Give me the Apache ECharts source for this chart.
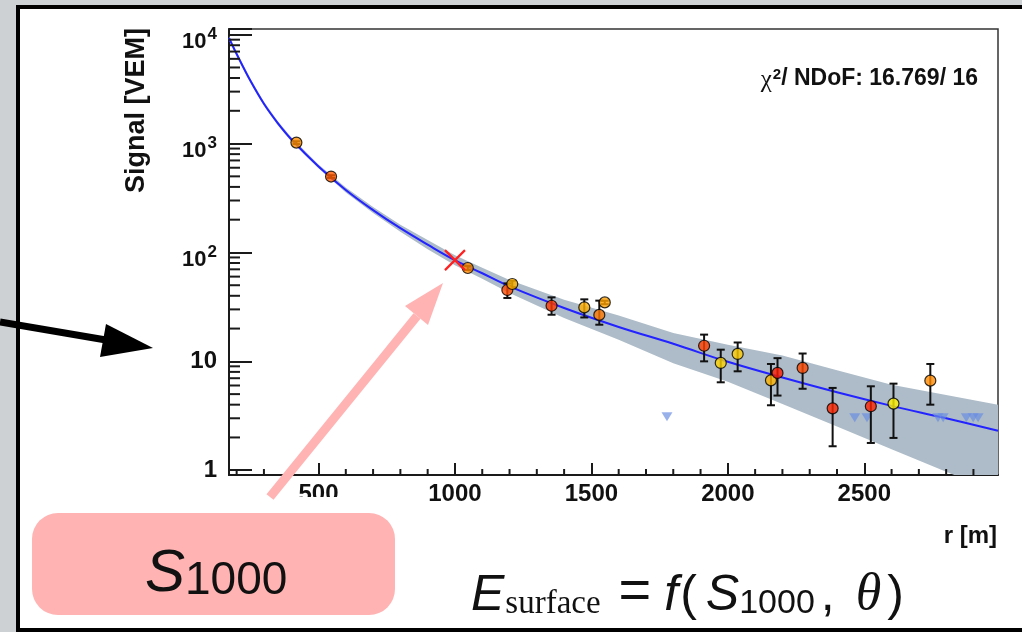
<!DOCTYPE html>
<html>
<head>
<meta charset="utf-8">
<script src="https://cdn.jsdelivr.net/npm/echarts@6/dist/echarts.min.js"></script>
<style>
  html, body { margin: 0; padding: 0; width: 1022px; height: 632px; overflow: hidden; background: #ced1d4; }
  #panel { position: absolute; left: 16px; top: 5px; width: 1030px; height: 619px; border: 4px solid #000; background: #fff; }
  #chart { position: absolute; left: 0; top: 0; width: 1022px; height: 632px; }
</style>
</head>
<body>
<div id="panel"></div>
<div id="chart"></div>
<script>
// ---- axis ranges ----
const rMin = 172, rMax = 2990;        // core distance r [m]
const sMin = 0.904, sMax = 11280;     // signal [VEM], log scale

// ---- tick values ----
const xMajor = [500, 1000, 1500, 2000, 2500];
const xMinor = [200, 300, 400, 600, 700, 800, 900, 1100, 1200, 1300, 1400, 1600, 1700, 1800, 1900,
                2100, 2200, 2300, 2400, 2600, 2700, 2800, 2900];
const yMinor = [2, 3, 4, 5, 6, 7, 8, 9, 20, 30, 40, 50, 60, 70, 80, 90,
                200, 300, 400, 500, 600, 700, 800, 900, 2000, 3000, 4000, 5000, 6000, 7000, 8000, 9000];

// ---- triggered stations ----
const stationR    = [419, 546, 1047, 1192, 1210, 1354, 1474, 1529, 1549, 1913, 1974, 2036, 2158, 2182, 2274, 2384, 2524, 2607, 2742];
const stationS    = [1021, 498, 72, 45.2, 51.3, 32.4, 31.3, 26.7, 34.8, 13.9, 9.67, 11.7, 6.69, 7.83, 8.7, 3.7, 3.87, 4.09, 6.65];
const stationLow  = [990, 484, 69, 38.2, 48, 26.8, 25.3, 21.7, 33.5, 10.0, 6.42, 8.1, 3.95, 4.85, 5.6, 1.66, 1.78, 1.98, 4.0];
const stationHigh = [1050, 512, 75, 52, 55, 38.7, 37.1, 36.1, 36, 17.6, 12.8, 14.9, 9.46, 10.7, 11.8, 5.7, 5.9, 6.24, 9.46];
const stationColor = ['#ff8c00', '#ff5a00', '#ff8800', '#ff4a00', '#ffb000', '#ff3800', '#ffae00', '#ff7800', '#ffa200',
                      '#ff4000', '#ffd400', '#ffcc00', '#ffb400', '#ff1a00', '#ff4800', '#ff2400', '#ff2000', '#fff000', '#ff8a00'];

// ---- silent stations (upper limits) ----
const silentR = [1777, 2465, 2510, 2770, 2789, 2874, 2899, 2917];
const silentS = [3.1, 3.03, 3.03, 3.03, 3.03, 3.03, 3.03, 3.03];

// ---- fitted lateral distribution function and its uncertainty band ----
const ldfR      = [172, 200, 250, 300, 350, 400, 500, 600, 700, 800, 900, 1000, 1100, 1200, 1400, 1600, 1800, 2000, 2200, 2400, 2600, 2800, 2990];
const ldfS      = [9330, 6650, 3790, 2320, 1550, 1097, 617, 375, 245, 167, 118, 85, 64.4, 48.8, 30.9, 20.7, 14.5, 9.9, 7.1, 5.2, 3.9, 3.0, 2.3];
const bandUpper = [9730, 6940, 3950, 2420, 1615, 1145, 643, 395, 261, 180, 130, 94.4, 72.3, 56, 36.8, 26.3, 18.2, 14.2, 11.3, 8.3, 6.1, 4.9, 4.0];
const bandLower = [8945, 6375, 3635, 2225, 1485, 1052, 592, 356, 230, 155, 107, 76.5, 57.3, 42.4, 25, 15.8, 9.6, 6.5, 4.06, 2.52, 1.56, 0.97, 0.62];

// ---- reference point ----
const refR = 1000, s1000 = 85;

const FONT = '"Liberation Sans", Arial, Helvetica, sans-serif';
const SERIF = '"Liberation Serif", "Times New Roman", serif';
const INK = '#1a1a1a';

const chart = echarts.init(document.getElementById('chart'), null, { renderer: 'canvas' });

function fmtY(v) {
  const e = Math.round(Math.log10(v));
  if (Math.abs(v / Math.pow(10, e) - 1) > 1e-6) return '';
  if (e === 0) return '{n|1}';
  if (e === 1) return '{n|10}';
  return '{b|10}{p|' + e + '}';
}

const option = {
  backgroundColor: 'transparent',
  animation: false,
  grid: { left: 229, right: 24, top: 29, bottom: 157, show: true, borderColor: '#333', borderWidth: 1.5, backgroundColor: 'transparent' },
  xAxis: {
    type: 'value', min: rMin, max: rMax,
    axisLine: { onZero: false, lineStyle: { color: INK, width: 2 } },
    axisTick: { inside: true, length: 12, customValues: xMajor, lineStyle: { color: INK, width: 2 } },
    axisLabel: { customValues: xMajor, margin: 7, fontSize: 24, fontWeight: 'bold', color: '#111', fontFamily: FONT,
                 formatter: v => String(v) },
    splitLine: { show: false }
  },
  yAxis: {
    type: 'log', logBase: 10, min: sMin, max: sMax,
    axisLine: { show: true, lineStyle: { color: INK, width: 2 } },
    axisTick: { show: true, inside: true, length: 23, lineStyle: { color: INK, width: 2 } },
    splitLine: { show: false },
    axisLabel: {
      margin: 12, formatter: fmtY, color: '#111',
      rich: {
        n: { fontSize: 24, fontWeight: 'bold', fontFamily: FONT, color: '#111', lineHeight: 24 },
        b: { fontSize: 22, fontWeight: 'bold', fontFamily: FONT, color: '#111', lineHeight: 22, padding: [14, 0, 0, 0] },
        p: { fontSize: 17, fontWeight: 'bold', fontFamily: FONT, color: '#111', lineHeight: 17, padding: [0, 0, 1, 1] }
      }
    }
  },
  series: [
    // uncertainty band of the fit
    {
      type: 'custom', z: 1, clip: true, silent: true,
      data: [[ldfR[0], bandUpper[0]]],
      renderItem: function (params, api) {
        const pts = [];
        for (let i = 0; i < ldfR.length; i++) pts.push(api.coord([ldfR[i], bandUpper[i]]));
        for (let i = ldfR.length - 1; i >= 0; i--) pts.push(api.coord([ldfR[i], bandLower[i]]));
        return { type: 'polygon', shape: { points: pts }, style: { fill: '#adbcc8' } };
      }
    },
    // fitted LDF
    {
      type: 'line', z: 2, data: ldfR.map((r, i) => [r, ldfS[i]]),
      smooth: 0.4, showSymbol: false, symbol: 'none',
      lineStyle: { color: '#2323ff', width: 2 }, silent: true
    },
    // minor ticks on the y axis
    {
      type: 'custom', z: 3, silent: true,
      data: yMinor.map(v => [rMin, v]),
      renderItem: function (params, api) {
        const p = api.coord([api.value(0), api.value(1)]);
        return { type: 'line', shape: { x1: p[0], y1: p[1], x2: p[0] + 11, y2: p[1] }, style: { stroke: INK, lineWidth: 2 } };
      }
    },
    // minor ticks on the x axis
    {
      type: 'custom', z: 3, silent: true,
      data: xMinor.map(v => [v, sMin]),
      renderItem: function (params, api) {
        const p = api.coord([api.value(0), api.value(1)]);
        return { type: 'line', shape: { x1: p[0], y1: p[1], x2: p[0], y2: p[1] - 6 }, style: { stroke: INK, lineWidth: 2 } };
      }
    },
    // silent stations
    {
      type: 'scatter', z: 4, data: silentR.map((r, i) => [r, silentS[i]]),
      symbol: 'triangle', symbolRotate: 180, symbolSize: [11, 9],
      itemStyle: { color: 'rgba(105,140,225,0.85)' }, silent: true
    },
    // error bars
    {
      type: 'custom', z: 5, silent: true,
      data: stationR.map((r, i) => [r, stationLow[i], stationHigh[i]]),
      renderItem: function (params, api) {
        const lo = api.coord([api.value(0), api.value(1)]);
        const hi = api.coord([api.value(0), api.value(2)]);
        const st = { stroke: '#111', lineWidth: 2 };
        return {
          type: 'group', children: [
            { type: 'line', shape: { x1: lo[0], y1: lo[1], x2: hi[0], y2: hi[1] }, style: st },
            { type: 'line', shape: { x1: hi[0] - 4, y1: hi[1], x2: hi[0] + 4, y2: hi[1] }, style: st },
            { type: 'line', shape: { x1: lo[0] - 4, y1: lo[1], x2: lo[0] + 4, y2: lo[1] }, style: st }
          ]
        };
      }
    },
    // triggered stations
    {
      type: 'scatter', z: 6, symbol: 'circle', symbolSize: 11,
      data: stationR.map((r, i) => ({ value: [r, stationS[i]], itemStyle: { color: stationColor[i] } })),
      itemStyle: { borderColor: '#000', borderWidth: 1.2 }, silent: true
    },
    // S1000 marker
    {
      type: 'custom', z: 7, silent: true,
      data: [[refR, s1000]],
      renderItem: function (params, api) {
        const p = api.coord([api.value(0), api.value(1)]);
        const st = { stroke: '#ff2020', lineWidth: 2.2 };
        return {
          type: 'group', children: [
            { type: 'line', shape: { x1: p[0] - 10, y1: p[1] - 10, x2: p[0] + 10, y2: p[1] + 10 }, style: st },
            { type: 'line', shape: { x1: p[0] - 10, y1: p[1] + 10, x2: p[0] + 10, y2: p[1] - 10 }, style: st }
          ]
        };
      }
    }
  ],
  graphic: [
    // axis titles
    { type: 'text', x: 137, y: 28, rotation: Math.PI / 2, z: 50,
      style: { text: 'Signal [VEM]', align: 'right', verticalAlign: 'middle', font: 'bold 27px ' + FONT, fill: '#111' } },
    { type: 'text', x: 997, y: 536, z: 50,
      style: { text: 'r [m]', align: 'right', verticalAlign: 'middle', font: 'bold 24px ' + FONT, fill: '#111' } },
    // fit quality
    { type: 'text', x: 978, y: 79, z: 50,
      style: {
        text: '{c|χ}{s|2}{t|/ NDoF: 16.769/ 16}', align: 'right', verticalAlign: 'middle',
        rich: {
          c: { fontSize: 25, fontFamily: SERIF, fill: '#111', lineHeight: 24, padding: [3, 0, 0, 0] },
          s: { fontSize: 15, fontWeight: 'bold', fontFamily: FONT, fill: '#111', lineHeight: 15, padding: [0, 0, 9, 1] },
          t: { fontSize: 23, fontWeight: 'bold', fontFamily: FONT, fill: '#111', lineHeight: 23 }
        }
      } },
    // mask under the first x label
    { type: 'rect', z: 60, shape: { x: 280, y: 497, width: 80, height: 15 }, style: { fill: '#fff' } },
    // black pointer arrow
    { type: 'polyline', z: 70, shape: { points: [[0, 322], [106, 340]] }, style: { stroke: '#000', lineWidth: 7, fill: null } },
    { type: 'polygon', z: 70, shape: { points: [[153, 348], [106, 324], [100, 357]] }, style: { fill: '#000' } },
    // pink arrow towards S1000
    { type: 'polyline', z: 70, shape: { points: [[270, 497], [417, 316]] }, style: { stroke: '#ffb3b3', lineWidth: 9, fill: null } },
    { type: 'polygon', z: 70, shape: { points: [[443, 283], [428, 325], [405, 306]] }, style: { fill: '#ffb3b3' } },
    // S1000 label box
    { type: 'rect', z: 70, shape: { x: 32, y: 513, width: 363, height: 102, r: 26 }, style: { fill: '#ffb3b3' } },
    { type: 'text', x: 145, y: 604, z: 71,
      style: {
        text: '{s|S}{n|1000}', align: 'left', verticalAlign: 'bottom',
        rich: {
          s: { fontSize: 60, fontStyle: 'italic', fontFamily: FONT, fill: '#111', lineHeight: 60, verticalAlign: 'bottom' },
          n: { fontSize: 46, fontFamily: FONT, fill: '#111', lineHeight: 46, verticalAlign: 'bottom' }
        }
      } },
    // energy estimator formula
    { type: 'text', x: 471, y: 621, z: 71,
      style: {
        text: '{E|E}{sub|surface}{eq|=}{f|f}{op|(}{S|S}{n|1000}{cm|,}{th|θ}{cp|)}',
        align: 'left', verticalAlign: 'bottom',
        rich: {
          E:   { fontSize: 50, fontStyle: 'italic', fontFamily: FONT, fill: '#111', lineHeight: 50, verticalAlign: 'bottom' },
          sub: { fontSize: 33, fontFamily: SERIF, fill: '#111', lineHeight: 33, verticalAlign: 'bottom', padding: [0, 0, 0, 1] },
          eq:  { fontSize: 56, fontFamily: FONT, fill: '#111', lineHeight: 56, verticalAlign: 'bottom', padding: [0, 13, 0, 18] },
          f:   { fontSize: 50, fontStyle: 'italic', fontFamily: FONT, fill: '#111', lineHeight: 50, verticalAlign: 'bottom' },
          op:  { fontSize: 50, fontFamily: FONT, fill: '#111', lineHeight: 50, verticalAlign: 'bottom', padding: [0, 0, 0, 2] },
          S:   { fontSize: 50, fontStyle: 'italic', fontFamily: FONT, fill: '#111', lineHeight: 50, verticalAlign: 'bottom', padding: [0, 0, 0, 9] },
          n:   { fontSize: 34, fontFamily: FONT, fill: '#111', lineHeight: 34, verticalAlign: 'bottom' },
          cm:  { fontSize: 50, fontFamily: FONT, fill: '#111', lineHeight: 50, verticalAlign: 'bottom', padding: [0, 0, 0, 6] },
          th:  { fontSize: 52, fontStyle: 'italic', fontFamily: SERIF, fill: '#111', lineHeight: 52, verticalAlign: 'bottom', padding: [0, 0, 0, 21] },
          cp:  { fontSize: 50, fontFamily: FONT, fill: '#111', lineHeight: 50, verticalAlign: 'bottom', padding: [0, 0, 0, 6] }
        }
      } }
  ]
};

chart.setOption(option);
</script>
</body>
</html>
